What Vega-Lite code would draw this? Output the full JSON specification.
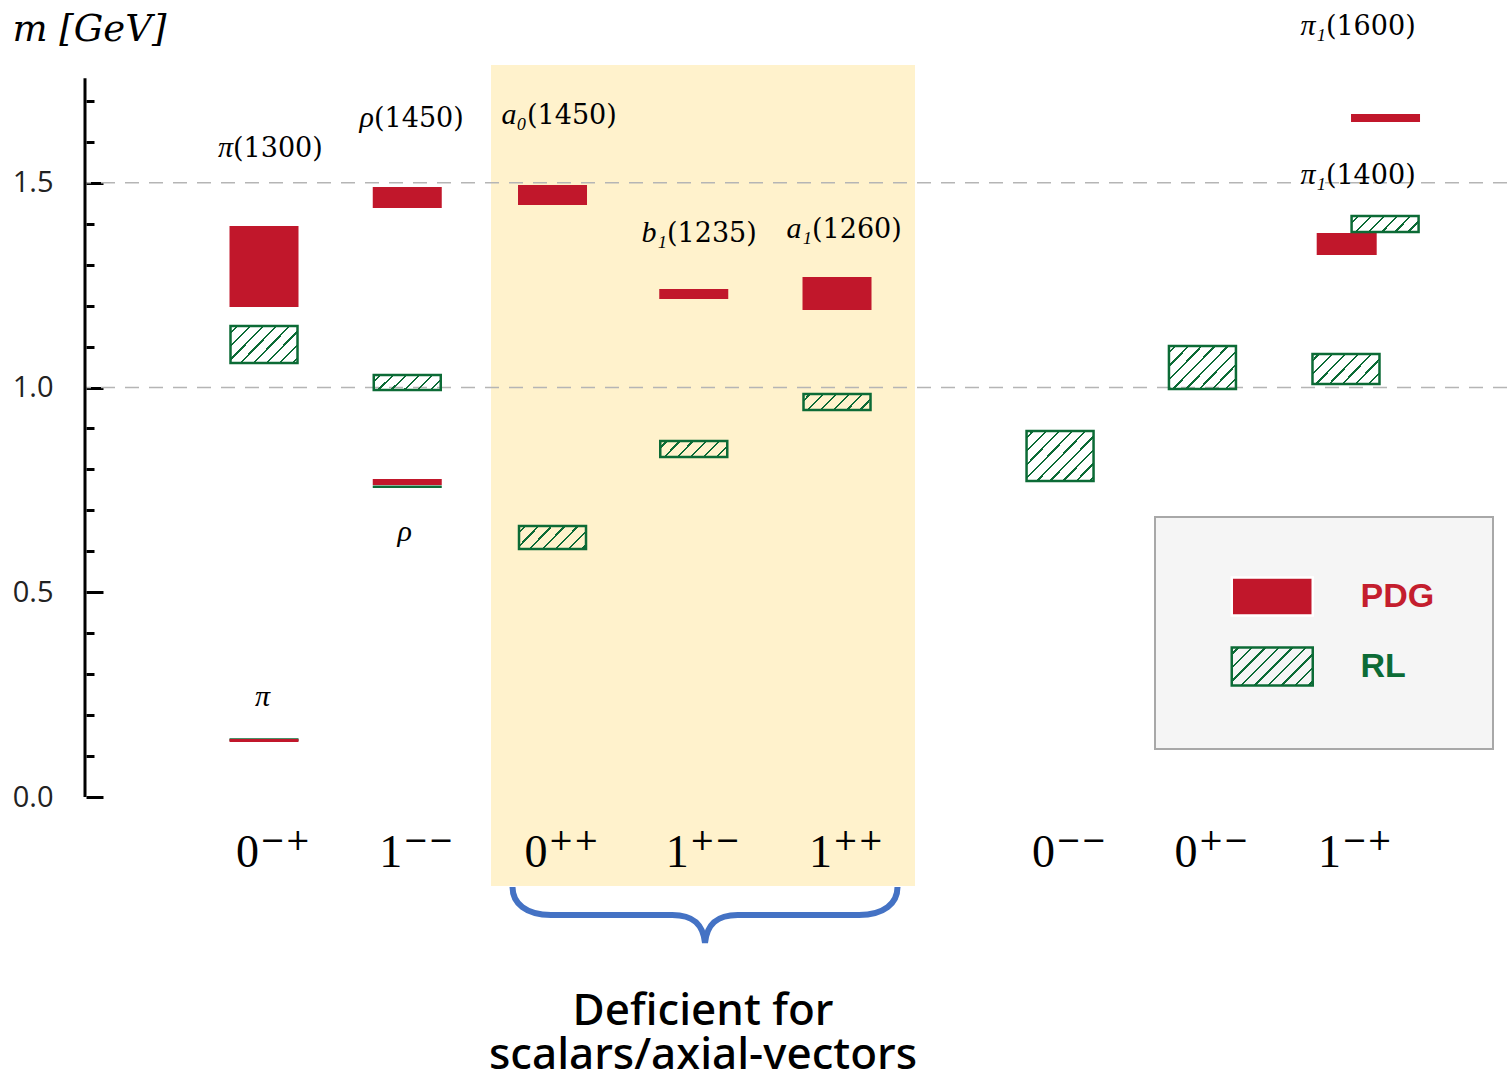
{
  "$schema": "https://vega.github.io/schema/vega-lite/v6.json",
  "width": 1421,
  "height": 1081,
  "autosize": "none",
  "padding": {"left": 86, "top": 0, "right": 0, "bottom": 0},
  "background": "white",
  "config": {"view": {"stroke": null}},
  "datasets": {
    "pdg": [
      {"src": "PDG", "name": "π", "pos": 1, "lo": 0.1343, "hi": 0.1416},
      {"src": "PDG", "name": "π(1300)", "pos": 1, "lo": 1.1966, "hi": 1.3944},
      {"src": "PDG", "name": "ρ", "pos": 2, "lo": 0.7619, "hi": 0.7766},
      {"src": "PDG", "name": "ρ(1450)", "pos": 2, "lo": 1.4384, "hi": 1.4896},
      {"src": "PDG", "name": "a0(1450)", "pos": 3.014, "lo": 1.4457, "hi": 1.4945},
      {"src": "PDG", "name": "b1(1235)", "pos": 4, "lo": 1.2161, "hi": 1.2405},
      {"src": "PDG", "name": "a1(1260)", "pos": 5, "lo": 1.1893, "hi": 1.2698},
      {"src": "PDG", "name": "π1(1400)", "pos": 8.558, "lo": 1.3236, "hi": 1.3773},
      {"src": "PDG", "name": "π1(1600)", "pos": 8.829, "lo": 1.6484, "hi": 1.6679}
    ],
    "rl": [
      {"src": "RL", "jpc": "0-+", "lvl": 0, "pos": 1, "lo": 0.137, "hi": 0.1435},
      {"src": "RL", "jpc": "1--", "lvl": 0, "pos": 2, "lo": 0.7546, "hi": 0.7607},
      {"src": "RL", "jpc": "0-+", "lvl": 1, "pos": 1, "lo": 1.06, "hi": 1.15},
      {"src": "RL", "jpc": "1--", "lvl": 1, "pos": 2, "lo": 0.994, "hi": 1.0305},
      {"src": "RL", "jpc": "0++", "lvl": 0, "pos": 3.014, "lo": 0.6056, "hi": 0.6618},
      {"src": "RL", "jpc": "1+-", "lvl": 0, "pos": 4, "lo": 0.8303, "hi": 0.8694},
      {"src": "RL", "jpc": "1++", "lvl": 0, "pos": 5, "lo": 0.9451, "hi": 0.9841},
      {"src": "RL", "jpc": "0--", "lvl": 0, "pos": 6.557, "lo": 0.7717, "hi": 0.8938},
      {"src": "RL", "jpc": "0+-", "lvl": 0, "pos": 7.551, "lo": 0.9963, "hi": 1.1013},
      {"src": "RL", "jpc": "1-+", "lvl": 0, "pos": 8.553, "lo": 1.0085, "hi": 1.0818},
      {"src": "RL", "jpc": "1-+", "lvl": 1, "pos": 8.826, "lo": 1.3797, "hi": 1.4188}
    ],
    "labels": [
      {"sym": "π", "num": "(1300)", "lx": 0.7836, "ly": 1.5629},
      {"sym": "ρ", "num": "(1450)", "lx": 1.7679, "ly": 1.6361},
      {"sym": "a₀", "num": "(1450)", "lx": 2.8359, "ly": 1.6435},
      {"sym": "b₁", "num": "(1235)", "lx": 3.8132, "ly": 1.3553},
      {"sym": "a₁", "num": "(1260)", "lx": 4.8255, "ly": 1.3651},
      {"sym": "π₁", "num": "(1400)", "lx": 8.4127, "ly": 1.4969},
      {"sym": "π₁", "num": "(1600)", "lx": 8.4127, "ly": 1.8608},
      {"sym": "π", "num": "", "lx": 1.0419, "ly": 0.2222},
      {"sym": "ρ", "num": "", "lx": 2.0331, "ly": 0.6252}
    ],
    "cats": [
      {"jpc": "0-+", "pos": 1, "base": "0", "sup": "−+"},
      {"jpc": "1--", "pos": 2, "base": "1", "sup": "−−"},
      {"jpc": "0++", "pos": 3.014, "base": "0", "sup": "++"},
      {"jpc": "1+-", "pos": 4, "base": "1", "sup": "+−"},
      {"jpc": "1++", "pos": 5, "base": "1", "sup": "++"},
      {"jpc": "0--", "pos": 6.557, "base": "0", "sup": "−−"},
      {"jpc": "0+-", "pos": 7.551, "base": "0", "sup": "+−"},
      {"jpc": "1-+", "pos": 8.553, "base": "1", "sup": "−+"}
    ],
    "grid": [{"m": 1.0}, {"m": 1.5}]
  },
  "layer": [
    {
      "data": {"values": [{"region": "scalars/axial-vectors"}]},
      "mark": {"type": "rect", "color": "#FFF2CC"},
      "encoding": {
        "x": {"datum": 2.5846, "type": "quantitative", "scale": {"domain": [-0.2426, 9.677], "nice": false, "zero": false, "padding": 0}, "axis": null},
        "x2": {"datum": 5.5445},
        "y": {"datum": -0.2173, "type": "quantitative", "scale": {"domain": [-0.6935, 1.9463], "nice": false, "zero": false, "padding": 0},
          "axis": {
            "title": "m [GeV]",
            "values": [0, 0.1, 0.2, 0.3, 0.4, 0.5, 0.6, 0.7, 0.8, 0.9, 1.0, 1.1, 1.2, 1.3, 1.4, 1.5, 1.6, 1.7],
            "domain": false, "grid": false,
            "tickColor": "black", "tickWidth": 3,
            "tickSize": {"condition": {"test": "abs(datum.value*2-round(datum.value*2))<0.001", "value": -17}, "value": -8},
            "labelPadding": 50,
            "labelExpr": "abs(datum.value*2-round(datum.value*2))<0.001 ? format(datum.value,'.1f') : ''",
            "labelFont": "Open Sans", "labelFontSize": 29, "labelColor": "#222222",
            "titleFont": "DejaVu Serif", "titleFontStyle": "italic", "titleFontWeight": "normal", "titleFontSize": 37,
            "titleAngle": 0, "titleX": -74, "titleY": 40, "titleAlign": "left", "titleBaseline": "alphabetic", "titleColor": "black"
          }},
        "y2": {"datum": 1.7875}
      }
    },
    {
      "data": {"name": "grid"},
      "mark": {"type": "rule", "color": "#b5b5b5", "strokeWidth": 1.6, "strokeDash": [14, 10]},
      "encoding": {"y": {"field": "m", "type": "quantitative"}}
    },
    {
      "data": {"name": "rl"},
      "transform": [{"filter": "(datum.jpc==='0-+'||datum.jpc==='1--') && datum.lvl===0"}],
      "mark": {"type": "bar", "width": 69, "color": "#0c6b36"},
      "encoding": {
        "x": {"field": "pos", "type": "quantitative", "axis": null},
        "y": {"field": "lo", "type": "quantitative"},
        "y2": {"field": "hi"}
      }
    },
    {
      "data": {"name": "pdg"},
      "transform": [{"filter": "datum.name !== 'π1(1400)'"}],
      "mark": {"type": "bar", "width": 69, "color": "#c1172b"},
      "encoding": {
        "x": {"field": "pos", "type": "quantitative", "axis": null},
        "y": {"field": "lo", "type": "quantitative"},
        "y2": {"field": "hi"},
        "opacity": {"field": "src", "type": "ordinal",
          "scale": {"domain": ["PDG", "RL"], "range": [1, 1]},
          "legend": {
            "title": null, "orient": "none", "legendX": 1069, "legendY": 517,
            "fillColor": "#f5f5f5", "strokeColor": "#a8a8a8", "padding": 58,
            "symbolType": "M-2,-0.938H2V0.938H-2Z", "symbolSize": 1640.25, "symbolOffset": 37.75,
            "labelFont": "Liberation Sans", "labelFontSize": 34, "labelFontWeight": "bold", "labelOffset": 66.75, "labelLimit": 300,
            "rowPadding": 21,
            "encoding": {
              "legend": {"strokeWidth": {"value": 2}},
              "symbols": {
                "fill": {"condition": {"test": "datum.value === 'RL'", "value": {"gradient": "linear", "x1": 0, "y1": 0, "x2": 1.2041, "y2": 0.5649, "stops": [
                    {"offset": 0, "color": "rgba(255,255,255,0)"},
                    {"offset": 0.0466, "color": "rgba(255,255,255,0)"}, {"offset": 0.0466, "color": "#0c6b36"}, {"offset": 0.0668, "color": "#0c6b36"}, {"offset": 0.0668, "color": "rgba(255,255,255,0)"},
                    {"offset": 0.1601, "color": "rgba(255,255,255,0)"}, {"offset": 0.1601, "color": "#0c6b36"}, {"offset": 0.1803, "color": "#0c6b36"}, {"offset": 0.1803, "color": "rgba(255,255,255,0)"},
                    {"offset": 0.2735, "color": "rgba(255,255,255,0)"}, {"offset": 0.2735, "color": "#0c6b36"}, {"offset": 0.2937, "color": "#0c6b36"}, {"offset": 0.2937, "color": "rgba(255,255,255,0)"},
                    {"offset": 0.387, "color": "rgba(255,255,255,0)"}, {"offset": 0.387, "color": "#0c6b36"}, {"offset": 0.4071, "color": "#0c6b36"}, {"offset": 0.4071, "color": "rgba(255,255,255,0)"},
                    {"offset": 0.5004, "color": "rgba(255,255,255,0)"}, {"offset": 0.5004, "color": "#0c6b36"}, {"offset": 0.5206, "color": "#0c6b36"}, {"offset": 0.5206, "color": "rgba(255,255,255,0)"},
                    {"offset": 0.6139, "color": "rgba(255,255,255,0)"}, {"offset": 0.6139, "color": "#0c6b36"}, {"offset": 0.634, "color": "#0c6b36"}, {"offset": 0.634, "color": "rgba(255,255,255,0)"},
                    {"offset": 0.7273, "color": "rgba(255,255,255,0)"}, {"offset": 0.7273, "color": "#0c6b36"}, {"offset": 0.7475, "color": "#0c6b36"}, {"offset": 0.7475, "color": "rgba(255,255,255,0)"},
                    {"offset": 0.8408, "color": "rgba(255,255,255,0)"}, {"offset": 0.8408, "color": "#0c6b36"}, {"offset": 0.8609, "color": "#0c6b36"}, {"offset": 0.8609, "color": "rgba(255,255,255,0)"},
                    {"offset": 0.9542, "color": "rgba(255,255,255,0)"}, {"offset": 0.9542, "color": "#0c6b36"}, {"offset": 0.9744, "color": "#0c6b36"}, {"offset": 0.9744, "color": "rgba(255,255,255,0)"},
                    {"offset": 1, "color": "rgba(255,255,255,0)"}]}},
                  "value": "#c1172b"},
                "stroke": {"condition": {"test": "datum.value === 'RL'", "value": "#0c6b36"}, "value": "white"},
                "strokeWidth": {"value": 2.5}
              },
              "labels": {"fill": {"condition": {"test": "datum.value === 'RL'", "value": "#0c6b36"}, "value": "#c41e2e"}}
            }
          }}
      }
    },
    {
      "data": {"name": "pdg"},
      "transform": [{"filter": "datum.name === 'π1(1400)'"}],
      "mark": {"type": "bar", "width": 60, "color": "#c1172b"},
      "encoding": {
        "x": {"field": "pos", "type": "quantitative", "axis": null},
        "y": {"field": "lo", "type": "quantitative"},
        "y2": {"field": "hi"}
      }
    },
    {
      "data": {"name": "rl"},
      "transform": [{"filter": "(datum.jpc==='1--'&&datum.lvl===1)||datum.jpc==='1+-'||datum.jpc==='1++'||(datum.jpc==='1-+'&&datum.lvl===1)"}],
      "mark": {"type": "bar", "width": 67, "stroke": "#0c6b36", "strokeWidth": 2.5, "fill": {"gradient": "linear", "x1": 0, "y1": 0, "x2": 1.169, "y2": 0.2711, "stops": [
        {"offset": 0, "color": "rgba(255,255,255,0)"},
        {"offset": 0.0653, "color": "rgba(255,255,255,0)"}, {"offset": 0.0653, "color": "#0c6b36"}, {"offset": 0.0935, "color": "#0c6b36"}, {"offset": 0.0935, "color": "rgba(255,255,255,0)"},
        {"offset": 0.2241, "color": "rgba(255,255,255,0)"}, {"offset": 0.2241, "color": "#0c6b36"}, {"offset": 0.2524, "color": "#0c6b36"}, {"offset": 0.2524, "color": "rgba(255,255,255,0)"},
        {"offset": 0.3829, "color": "rgba(255,255,255,0)"}, {"offset": 0.3829, "color": "#0c6b36"}, {"offset": 0.4112, "color": "#0c6b36"}, {"offset": 0.4112, "color": "rgba(255,255,255,0)"},
        {"offset": 0.5418, "color": "rgba(255,255,255,0)"}, {"offset": 0.5418, "color": "#0c6b36"}, {"offset": 0.57, "color": "#0c6b36"}, {"offset": 0.57, "color": "rgba(255,255,255,0)"},
        {"offset": 0.7006, "color": "rgba(255,255,255,0)"}, {"offset": 0.7006, "color": "#0c6b36"}, {"offset": 0.7288, "color": "#0c6b36"}, {"offset": 0.7288, "color": "rgba(255,255,255,0)"},
        {"offset": 0.8594, "color": "rgba(255,255,255,0)"}, {"offset": 0.8594, "color": "#0c6b36"}, {"offset": 0.8876, "color": "#0c6b36"}, {"offset": 0.8876, "color": "rgba(255,255,255,0)"},
        {"offset": 1, "color": "rgba(255,255,255,0)"}]}},
      "encoding": {
        "x": {"field": "pos", "type": "quantitative", "axis": null},
        "y": {"field": "lo", "type": "quantitative"},
        "y2": {"field": "hi"}
      }
    },
    {
      "data": {"name": "rl"},
      "transform": [{"filter": "datum.jpc==='0-+'&&datum.lvl===1"}],
      "mark": {"type": "bar", "width": 67, "stroke": "#0c6b36", "strokeWidth": 2.5, "fill": {"gradient": "linear", "x1": 0, "y1": 0, "x2": 1.1932, "y2": 0.6398, "stops": [
        {"offset": 0, "color": "rgba(255,255,255,0)"},
        {"offset": 0.0524, "color": "rgba(255,255,255,0)"}, {"offset": 0.0524, "color": "#0c6b36"}, {"offset": 0.075, "color": "#0c6b36"}, {"offset": 0.075, "color": "rgba(255,255,255,0)"},
        {"offset": 0.1797, "color": "rgba(255,255,255,0)"}, {"offset": 0.1797, "color": "#0c6b36"}, {"offset": 0.2024, "color": "#0c6b36"}, {"offset": 0.2024, "color": "rgba(255,255,255,0)"},
        {"offset": 0.3071, "color": "rgba(255,255,255,0)"}, {"offset": 0.3071, "color": "#0c6b36"}, {"offset": 0.3297, "color": "#0c6b36"}, {"offset": 0.3297, "color": "rgba(255,255,255,0)"},
        {"offset": 0.4344, "color": "rgba(255,255,255,0)"}, {"offset": 0.4344, "color": "#0c6b36"}, {"offset": 0.4571, "color": "#0c6b36"}, {"offset": 0.4571, "color": "rgba(255,255,255,0)"},
        {"offset": 0.5618, "color": "rgba(255,255,255,0)"}, {"offset": 0.5618, "color": "#0c6b36"}, {"offset": 0.5844, "color": "#0c6b36"}, {"offset": 0.5844, "color": "rgba(255,255,255,0)"},
        {"offset": 0.6892, "color": "rgba(255,255,255,0)"}, {"offset": 0.6892, "color": "#0c6b36"}, {"offset": 0.7118, "color": "#0c6b36"}, {"offset": 0.7118, "color": "rgba(255,255,255,0)"},
        {"offset": 0.8165, "color": "rgba(255,255,255,0)"}, {"offset": 0.8165, "color": "#0c6b36"}, {"offset": 0.8392, "color": "#0c6b36"}, {"offset": 0.8392, "color": "rgba(255,255,255,0)"},
        {"offset": 0.9439, "color": "rgba(255,255,255,0)"}, {"offset": 0.9439, "color": "#0c6b36"}, {"offset": 0.9665, "color": "#0c6b36"}, {"offset": 0.9665, "color": "rgba(255,255,255,0)"},
        {"offset": 1, "color": "rgba(255,255,255,0)"}]}},
      "encoding": {
        "x": {"field": "pos", "type": "quantitative", "axis": null},
        "y": {"field": "lo", "type": "quantitative"},
        "y2": {"field": "hi"}
      }
    },
    {
      "data": {"name": "rl"},
      "transform": [{"filter": "datum.jpc==='0++'"}],
      "mark": {"type": "bar", "width": 67, "stroke": "#0c6b36", "strokeWidth": 2.5, "fill": {"gradient": "linear", "x1": 0, "y1": 0, "x2": 1.2, "y2": 0.4, "stops": [
        {"offset": 0, "color": "rgba(255,255,255,0)"},
        {"offset": 0.0603, "color": "rgba(255,255,255,0)"}, {"offset": 0.0603, "color": "#0c6b36"}, {"offset": 0.0864, "color": "#0c6b36"}, {"offset": 0.0864, "color": "rgba(255,255,255,0)"},
        {"offset": 0.2071, "color": "rgba(255,255,255,0)"}, {"offset": 0.2071, "color": "#0c6b36"}, {"offset": 0.2332, "color": "#0c6b36"}, {"offset": 0.2332, "color": "rgba(255,255,255,0)"},
        {"offset": 0.3538, "color": "rgba(255,255,255,0)"}, {"offset": 0.3538, "color": "#0c6b36"}, {"offset": 0.3799, "color": "#0c6b36"}, {"offset": 0.3799, "color": "rgba(255,255,255,0)"},
        {"offset": 0.5005, "color": "rgba(255,255,255,0)"}, {"offset": 0.5005, "color": "#0c6b36"}, {"offset": 0.5266, "color": "#0c6b36"}, {"offset": 0.5266, "color": "rgba(255,255,255,0)"},
        {"offset": 0.6473, "color": "rgba(255,255,255,0)"}, {"offset": 0.6473, "color": "#0c6b36"}, {"offset": 0.6734, "color": "#0c6b36"}, {"offset": 0.6734, "color": "rgba(255,255,255,0)"},
        {"offset": 0.794, "color": "rgba(255,255,255,0)"}, {"offset": 0.794, "color": "#0c6b36"}, {"offset": 0.8201, "color": "#0c6b36"}, {"offset": 0.8201, "color": "rgba(255,255,255,0)"},
        {"offset": 0.9408, "color": "rgba(255,255,255,0)"}, {"offset": 0.9408, "color": "#0c6b36"}, {"offset": 0.9668, "color": "#0c6b36"}, {"offset": 0.9668, "color": "rgba(255,255,255,0)"},
        {"offset": 1, "color": "rgba(255,255,255,0)"}]}},
      "encoding": {
        "x": {"field": "pos", "type": "quantitative", "axis": null},
        "y": {"field": "lo", "type": "quantitative"},
        "y2": {"field": "hi"}
      }
    },
    {
      "data": {"name": "rl"},
      "transform": [{"filter": "datum.jpc==='0--'"}],
      "mark": {"type": "bar", "width": 67, "stroke": "#0c6b36", "strokeWidth": 2.5, "fill": {"gradient": "linear", "x1": 0, "y1": 0, "x2": 1.1308, "y2": 0.8194, "stops": [
        {"offset": 0, "color": "rgba(255,255,255,0)"},
        {"offset": 0.0466, "color": "rgba(255,255,255,0)"}, {"offset": 0.0466, "color": "#0c6b36"}, {"offset": 0.0668, "color": "#0c6b36"}, {"offset": 0.0668, "color": "rgba(255,255,255,0)"},
        {"offset": 0.1601, "color": "rgba(255,255,255,0)"}, {"offset": 0.1601, "color": "#0c6b36"}, {"offset": 0.1803, "color": "#0c6b36"}, {"offset": 0.1803, "color": "rgba(255,255,255,0)"},
        {"offset": 0.2735, "color": "rgba(255,255,255,0)"}, {"offset": 0.2735, "color": "#0c6b36"}, {"offset": 0.2937, "color": "#0c6b36"}, {"offset": 0.2937, "color": "rgba(255,255,255,0)"},
        {"offset": 0.387, "color": "rgba(255,255,255,0)"}, {"offset": 0.387, "color": "#0c6b36"}, {"offset": 0.4071, "color": "#0c6b36"}, {"offset": 0.4071, "color": "rgba(255,255,255,0)"},
        {"offset": 0.5004, "color": "rgba(255,255,255,0)"}, {"offset": 0.5004, "color": "#0c6b36"}, {"offset": 0.5206, "color": "#0c6b36"}, {"offset": 0.5206, "color": "rgba(255,255,255,0)"},
        {"offset": 0.6139, "color": "rgba(255,255,255,0)"}, {"offset": 0.6139, "color": "#0c6b36"}, {"offset": 0.634, "color": "#0c6b36"}, {"offset": 0.634, "color": "rgba(255,255,255,0)"},
        {"offset": 0.7273, "color": "rgba(255,255,255,0)"}, {"offset": 0.7273, "color": "#0c6b36"}, {"offset": 0.7475, "color": "#0c6b36"}, {"offset": 0.7475, "color": "rgba(255,255,255,0)"},
        {"offset": 0.8408, "color": "rgba(255,255,255,0)"}, {"offset": 0.8408, "color": "#0c6b36"}, {"offset": 0.8609, "color": "#0c6b36"}, {"offset": 0.8609, "color": "rgba(255,255,255,0)"},
        {"offset": 0.9542, "color": "rgba(255,255,255,0)"}, {"offset": 0.9542, "color": "#0c6b36"}, {"offset": 0.9744, "color": "#0c6b36"}, {"offset": 0.9744, "color": "rgba(255,255,255,0)"},
        {"offset": 1, "color": "rgba(255,255,255,0)"}]}},
      "encoding": {
        "x": {"field": "pos", "type": "quantitative", "axis": null},
        "y": {"field": "lo", "type": "quantitative"},
        "y2": {"field": "hi"}
      }
    },
    {
      "data": {"name": "rl"},
      "transform": [{"filter": "datum.jpc==='0+-'"}],
      "mark": {"type": "bar", "width": 67, "stroke": "#0c6b36", "strokeWidth": 2.5, "fill": {"gradient": "linear", "x1": 0, "y1": 0, "x2": 1.1691, "y2": 0.7286, "stops": [
        {"offset": 0, "color": "rgba(255,255,255,0)"},
        {"offset": 0.0496, "color": "rgba(255,255,255,0)"}, {"offset": 0.0496, "color": "#0c6b36"}, {"offset": 0.071, "color": "#0c6b36"}, {"offset": 0.071, "color": "rgba(255,255,255,0)"},
        {"offset": 0.1701, "color": "rgba(255,255,255,0)"}, {"offset": 0.1701, "color": "#0c6b36"}, {"offset": 0.1915, "color": "#0c6b36"}, {"offset": 0.1915, "color": "rgba(255,255,255,0)"},
        {"offset": 0.2906, "color": "rgba(255,255,255,0)"}, {"offset": 0.2906, "color": "#0c6b36"}, {"offset": 0.3121, "color": "#0c6b36"}, {"offset": 0.3121, "color": "rgba(255,255,255,0)"},
        {"offset": 0.4112, "color": "rgba(255,255,255,0)"}, {"offset": 0.4112, "color": "#0c6b36"}, {"offset": 0.4326, "color": "#0c6b36"}, {"offset": 0.4326, "color": "rgba(255,255,255,0)"},
        {"offset": 0.5317, "color": "rgba(255,255,255,0)"}, {"offset": 0.5317, "color": "#0c6b36"}, {"offset": 0.5531, "color": "#0c6b36"}, {"offset": 0.5531, "color": "rgba(255,255,255,0)"},
        {"offset": 0.6522, "color": "rgba(255,255,255,0)"}, {"offset": 0.6522, "color": "#0c6b36"}, {"offset": 0.6737, "color": "#0c6b36"}, {"offset": 0.6737, "color": "rgba(255,255,255,0)"},
        {"offset": 0.7728, "color": "rgba(255,255,255,0)"}, {"offset": 0.7728, "color": "#0c6b36"}, {"offset": 0.7942, "color": "#0c6b36"}, {"offset": 0.7942, "color": "rgba(255,255,255,0)"},
        {"offset": 0.8933, "color": "rgba(255,255,255,0)"}, {"offset": 0.8933, "color": "#0c6b36"}, {"offset": 0.9147, "color": "#0c6b36"}, {"offset": 0.9147, "color": "rgba(255,255,255,0)"},
        {"offset": 1, "color": "rgba(255,255,255,0)"}]}},
      "encoding": {
        "x": {"field": "pos", "type": "quantitative", "axis": null},
        "y": {"field": "lo", "type": "quantitative"},
        "y2": {"field": "hi"}
      }
    },
    {
      "data": {"name": "rl"},
      "transform": [{"filter": "datum.jpc==='1-+'&&datum.lvl===0"}],
      "mark": {"type": "bar", "width": 67, "stroke": "#0c6b36", "strokeWidth": 2.5, "fill": {"gradient": "linear", "x1": 0, "y1": 0, "x2": 1.2067, "y2": 0.5247, "stops": [
        {"offset": 0, "color": "rgba(255,255,255,0)"},
        {"offset": 0.0561, "color": "rgba(255,255,255,0)"}, {"offset": 0.0561, "color": "#0c6b36"}, {"offset": 0.0803, "color": "#0c6b36"}, {"offset": 0.0803, "color": "rgba(255,255,255,0)"},
        {"offset": 0.1924, "color": "rgba(255,255,255,0)"}, {"offset": 0.1924, "color": "#0c6b36"}, {"offset": 0.2167, "color": "#0c6b36"}, {"offset": 0.2167, "color": "rgba(255,255,255,0)"},
        {"offset": 0.3288, "color": "rgba(255,255,255,0)"}, {"offset": 0.3288, "color": "#0c6b36"}, {"offset": 0.353, "color": "#0c6b36"}, {"offset": 0.353, "color": "rgba(255,255,255,0)"},
        {"offset": 0.4652, "color": "rgba(255,255,255,0)"}, {"offset": 0.4652, "color": "#0c6b36"}, {"offset": 0.4894, "color": "#0c6b36"}, {"offset": 0.4894, "color": "rgba(255,255,255,0)"},
        {"offset": 0.6015, "color": "rgba(255,255,255,0)"}, {"offset": 0.6015, "color": "#0c6b36"}, {"offset": 0.6258, "color": "#0c6b36"}, {"offset": 0.6258, "color": "rgba(255,255,255,0)"},
        {"offset": 0.7379, "color": "rgba(255,255,255,0)"}, {"offset": 0.7379, "color": "#0c6b36"}, {"offset": 0.7621, "color": "#0c6b36"}, {"offset": 0.7621, "color": "rgba(255,255,255,0)"},
        {"offset": 0.8742, "color": "rgba(255,255,255,0)"}, {"offset": 0.8742, "color": "#0c6b36"}, {"offset": 0.8985, "color": "#0c6b36"}, {"offset": 0.8985, "color": "rgba(255,255,255,0)"},
        {"offset": 1, "color": "rgba(255,255,255,0)"}]}},
      "encoding": {
        "x": {"field": "pos", "type": "quantitative", "axis": null},
        "y": {"field": "lo", "type": "quantitative"},
        "y2": {"field": "hi"}
      }
    },
    {
      "data": {"name": "labels"},
      "mark": {"type": "text", "align": "right", "baseline": "alphabetic", "font": "Liberation Serif", "fontStyle": "italic", "fontSize": 30, "color": "black"},
      "encoding": {
        "x": {"field": "lx", "type": "quantitative", "axis": null},
        "y": {"field": "ly", "type": "quantitative"},
        "text": {"field": "sym"}
      }
    },
    {
      "data": {"name": "labels"},
      "mark": {"type": "text", "align": "left", "baseline": "alphabetic", "font": "DejaVu Serif", "fontSize": 27, "color": "black"},
      "encoding": {
        "x": {"field": "lx", "type": "quantitative", "axis": null},
        "y": {"field": "ly", "type": "quantitative"},
        "text": {"field": "num"}
      }
    },
    {
      "data": {"name": "cats"},
      "mark": {"type": "text", "align": "left", "baseline": "alphabetic", "font": "Liberation Serif", "fontSize": 46, "dx": -28, "color": "black"},
      "encoding": {
        "x": {"field": "pos", "type": "quantitative", "axis": null},
        "y": {"datum": -0.171, "type": "quantitative"},
        "text": {"field": "base"}
      }
    },
    {
      "data": {"name": "cats"},
      "mark": {"type": "text", "align": "left", "baseline": "alphabetic", "font": "DejaVu Serif", "fontSize": 30, "dx": -4, "dy": -17, "color": "black"},
      "encoding": {
        "x": {"field": "pos", "type": "quantitative", "axis": null},
        "y": {"datum": -0.171, "type": "quantitative"},
        "text": {"field": "sup"}
      }
    },
    {
      "data": {"values": [{"note": "Deficient for\nscalars/axial-vectors"}]},
      "mark": {"type": "text", "align": "center", "baseline": "alphabetic", "font": "Noto Sans", "fontSize": 44, "fontWeight": 500, "lineHeight": 44, "lineBreak": "\n", "color": "black"},
      "encoding": {
        "x": {"datum": 4.0645, "type": "quantitative", "axis": null},
        "y": {"datum": -0.5568, "type": "quantitative"},
        "text": {"field": "note"}
      }
    },
    {
      "data": {"values": [{"note": "brace"}]},
      "mark": {"type": "point", "filled": false, "stroke": "#4472c4", "strokeWidth": 6, "opacity": 1, "size": 148225,
        "shape": "M-1,-0.145 C-1,-0.06 -0.93,0 -0.8,0 L-0.17,0 C-0.06,0 -0.01,0.05 0,0.145 C0.01,0.05 0.06,0 0.17,0 L0.8,0 C0.93,0 1,-0.06 1,-0.145"},
      "encoding": {
        "x": {"datum": 4.0785, "type": "quantitative", "axis": null},
        "y": {"datum": -0.2882, "type": "quantitative"}
      }
    },
    {
      "data": {"values": [{"axis": "m"}]},
      "mark": {"type": "rule", "color": "black", "strokeWidth": 3, "xOffset": -1},
      "encoding": {
        "x": {"datum": -0.2426, "type": "quantitative", "axis": null},
        "y": {"datum": 0, "type": "quantitative"},
        "y2": {"datum": 1.755}
      }
    }
  ]
}
